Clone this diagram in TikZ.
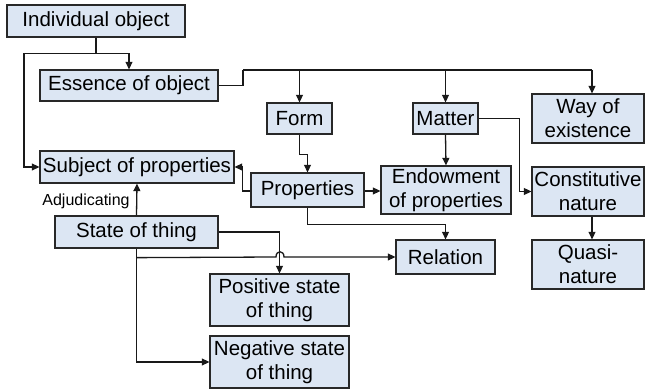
\documentclass[tikz,border=0pt]{standalone}
\usepackage{fontspec}
\setmainfont{Liberation Sans}
\usetikzlibrary{arrows.meta,calc}
\definecolor{boxfill}{RGB}{220,230,243}
\definecolor{boxline}{RGB}{40,40,40}
\begin{document}
\begin{tikzpicture}[x=1pt,y=-1pt,
  box/.style={draw=boxline,fill=boxfill,line width=1.3pt,rectangle,inner sep=0pt,
    align=center,font=\fontsize{20.5}{24}\selectfont},
  link/.style={line width=1.3pt,draw=black!90},
  arr/.style={link,-{Triangle[length=7.5pt,width=7pt]}}]
\useasboundingbox (0,0) rectangle (646,390);

% concept boxes
\node[box,minimum width=178pt,minimum height=32pt] (io)     at (96,21)     {Individual object};
\node[box,minimum width=178pt,minimum height=31pt] (ess)    at (129,85.5)  {Essence of object};
\node[box,minimum width=194pt,minimum height=32pt] (subj)   at (137,167)   {Subject of properties};
\node[box,minimum width=65pt,minimum height=31pt]  (form)   at (299.5,118.5) {Form};
\node[box,minimum width=65pt,minimum height=31pt]  (matter) at (445.5,118.5) {Matter};
\node[box,minimum width=112pt,minimum height=49pt] (way)    at (588,118.5) {Way of\\existence};
\node[box,minimum width=113pt,minimum height=34pt] (props)  at (307.5,190) {Properties};
\node[box,minimum width=130pt,minimum height=48pt] (endow)  at (446,190)   {Endowment\\of properties};
\node[box,minimum width=112pt,minimum height=49pt] (const)  at (588,191.5) {Constitutive\\nature};
\node[box,minimum width=112pt,minimum height=49pt] (quasi)  at (588,264.5) {Quasi-\\nature};
\node[box,minimum width=99pt,minimum height=34pt]  (rel)    at (445.5,257) {Relation};
\node[box,minimum width=163pt,minimum height=32pt] (state)  at (136.5,232) {State of thing};
\node[box,minimum width=139pt,minimum height=52pt] (pos)    at (279.5,300) {Positive state\\of thing};
\node[box,minimum width=139pt,minimum height=52pt] (neg)    at (279.5,362) {Negative state\\of thing};

\node[font=\fontsize{16}{18}\selectfont] (adj) at (86,201) {Adjudicating};

% junction points
\coordinate (ioj) at ($(io.south)+(0,16)$);
\coordinate (essj) at (243,70);
\coordinate (stj) at ($(state.south)+(0,9)$);

% individual object
\draw[link] (io.south) -- (ioj);
\draw[arr] (ioj) -| (ess.north);
\draw[arr] (ioj) -| (24,167) -- (subj.west);

% essence of object branches
\draw[link] (ess.east) -| (essj);
\draw[link] (essj) -- ([xshift=4pt]way.north |- essj);
\draw[arr] (essj -| form.north) -- (form.north);
\draw[arr] (essj -| matter.north) -- (matter.north);
\draw[arr] ([xshift=4pt]way.north |- essj) -- ([xshift=4pt]way.north);

% form and properties
\draw[arr] (form.south) -- ++(0,20) -| (props.north);
\draw[arr] ([yshift=-1pt]props.west) -- ++(-8,0) |- (subj.east);
\draw[arr] ([yshift=-1pt]props.east) -- ([yshift=-1pt]endow.west);
\draw[arr] (props.south) -- ++(0,17) -| (rel.north);

% matter
\draw[arr] (matter.south) -- (endow.north);
\draw[arr] (matter.east) -- ++(41,0) |- (const.west);
\draw[arr] ([xshift=4pt]const.south) -- ([xshift=4pt]quasi.north);

% state of thing
\draw[arr] (state.north) -- (subj.south);
\draw[arr] (state.east) -| (pos.north);
\draw[arr] (stj) -- (276,257) .. controls (276,250) and (284,250) .. (284,257) -- (rel.west);
\draw[link] (state.south) -- (stj);
\draw[arr] (stj) |- (neg.west);
\end{tikzpicture}
\end{document}
